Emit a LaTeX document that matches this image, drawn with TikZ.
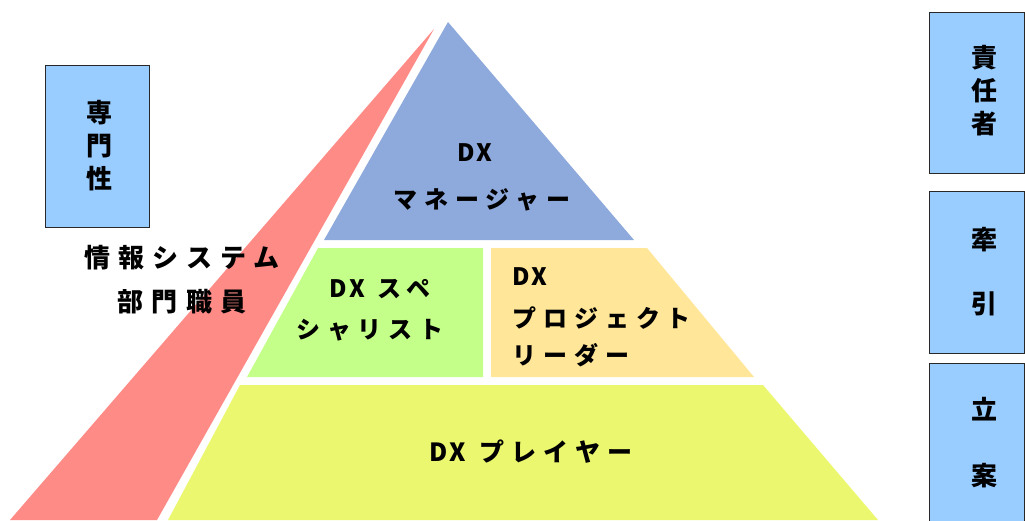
\documentclass[tikz,border=0pt]{standalone}
\usepackage{fontspec}
\newfontfamily\jpA[LetterSpace=29]{Noto Sans CJK JP}
\newfontfamily\jpB[LetterSpace=31]{Noto Sans CJK JP}
\newcommand{\dxword}{{\addfontfeature{LetterSpace=12}DX}}
\definecolor{cblue}{RGB}{142,169,219}
\definecolor{cgreen}{RGB}{196,255,138}
\definecolor{corange}{RGB}{255,230,153}
\definecolor{clime}{RGB}{235,247,110}
\definecolor{cred}{RGB}{255,139,135}
\definecolor{cbox}{RGB}{153,204,255}
\definecolor{cborder}{RGB}{40,40,40}
\begin{document}
\begin{tikzpicture}[x=1pt,y=-1pt,
  lbl/.style={inner sep=0pt, font=\jpA\bfseries\fontsize{24}{40}\selectfont, text=black},
  sidelbl/.style={inner sep=0pt, align=center, font=\jpB\bfseries\fontsize{26}{42}\selectfont, text=black},
  vlbl/.style={inner sep=0pt, align=center, font=\jpB\bfseries\fontsize{26}{33}\selectfont, text=black},
  sidebox/.style={draw=cborder, line width=1pt, fill=cbox}]
\useasboundingbox (0,0) rectangle (1025,520);
\clip (0,0) rectangle (1025,520);
% red band
\fill[cred] (434,29) -- (157,520) -- (10,520) -- cycle;
% pyramid
\fill[cblue] (448,22) -- (634,240) -- (324,240) -- cycle;
\fill[cgreen] (318,248) -- (483,248) -- (483,377) -- (247,377) -- cycle;
\fill[corange] (491,248) -- (647,248) -- (754,377) -- (491,377) -- cycle;
\fill[clime] (240,385) -- (763,385) -- (878,520) -- (168,520) -- cycle;
% side boxes
\draw[sidebox] (45,65) rectangle (149,227);
\draw[sidebox] (929,12) rectangle (1024.5,173);
\draw[sidebox] (929,191) rectangle (1024.5,353);
\draw[sidebox] (929,363) rectangle (1024.5,530);
% texts
\node[vlbl] (senmon) at (99,146) {専\\門\\性};
\node[sidelbl] (joho) at (182,258) {情報システム};
\node[sidelbl] (bumon) at (182,302) {部門職員};
\node[vlbl] (sekinin) at (984,91) {責\\任\\者};
\node[vlbl, font=\jpB\bfseries\fontsize{26}{64}\selectfont] (kenin) at (984,272) {牽\\引};
\node[vlbl, font=\jpB\bfseries\fontsize{26}{66}\selectfont] (rian) at (984,443) {立\\案};
\node[lbl] (mgrdx) at (475,153) {\dxword};
\node[lbl] (mgr) at (482,200) {マネージャー};
\node[lbl] (spdx) at (380,289) {\dxword{} スペ};
\node[lbl] (sp) at (370,330) {シャリスト};
\node[lbl, anchor=west] (pldx) at (512,277) {\dxword};
\node[lbl, anchor=west] (pl) at (512,318) {プロジェクト};
\node[lbl, anchor=west] (pl2) at (512,355) {リーダー};
\node[lbl, font=\jpA\bfseries\fontsize{25}{40}\selectfont] (player) at (531,452) {\dxword{} プレイヤー};
\end{tikzpicture}
\end{document}
